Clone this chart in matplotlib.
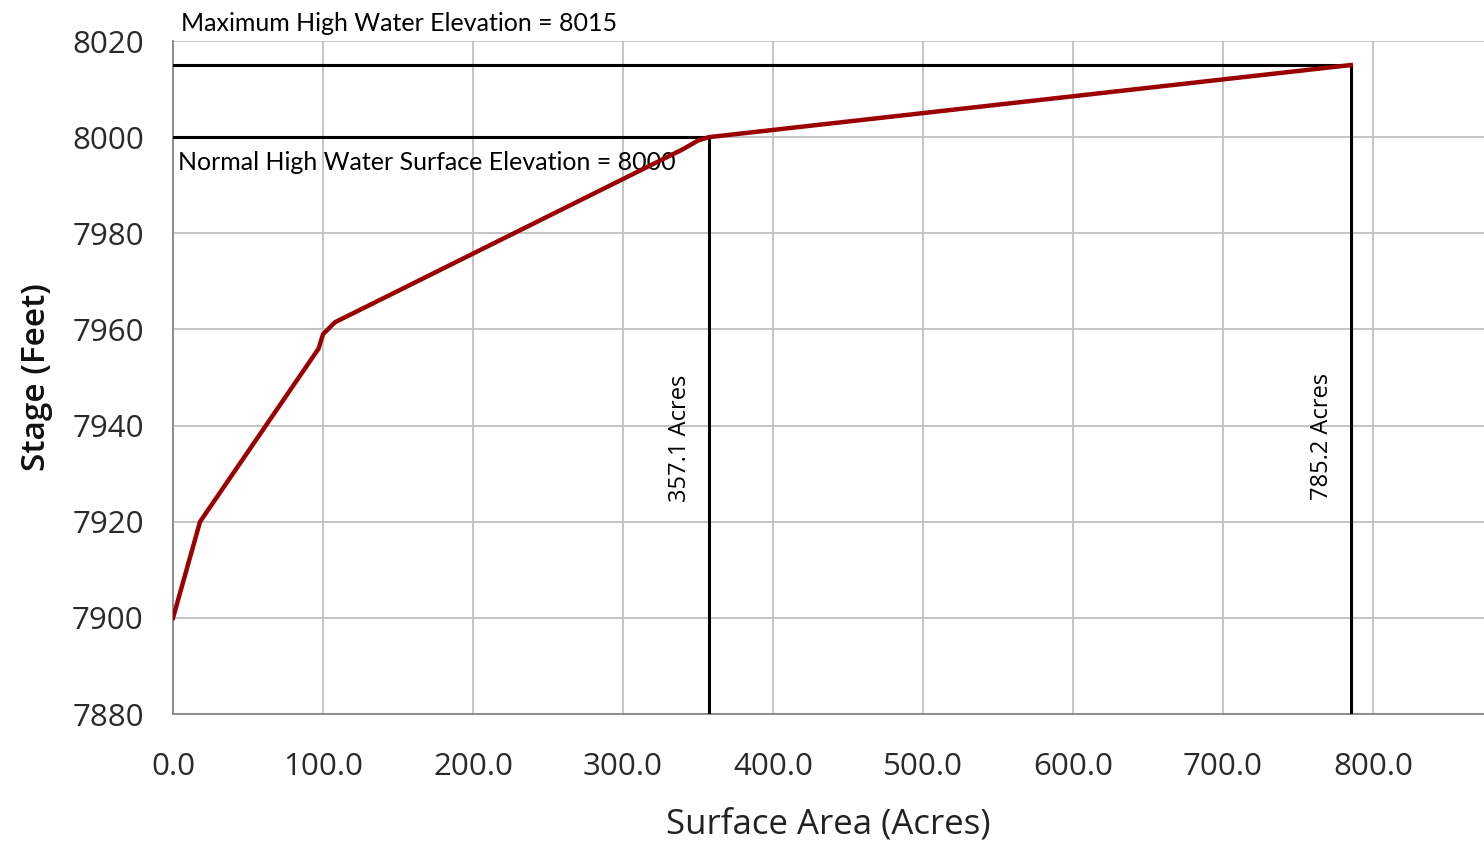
import numpy as np
import matplotlib.pyplot as plt

# stage-area curve
area = [0.0, 18.0, 97.0, 100.0, 108.0, 340.0, 350.0, 357.1, 785.2]
stage = [7900, 7920, 7956, 7959, 7961.5, 7997.5, 7999.3, 8000, 8015]

# reference elevations
normal_area = 357.1
normal_stage = 8000
max_area = 785.2
max_stage = 8015

x_ticks = [0, 100, 200, 300, 400, 500, 600, 700, 800]
y_ticks = [7880, 7900, 7920, 7940, 7960, 7980, 8000, 8020]

plt.rcParams['font.family'] = ['Open Sans', 'DejaVu Sans']

fig = plt.figure(figsize=(14.84, 8.44), dpi=100)
ax = fig.add_axes([0.1166, 0.154, 0.8834, 0.7974])

# black guide lines for normal and max water levels
ax.plot([0, normal_area], [normal_stage, normal_stage], color='black', lw=2.2, zorder=3)
ax.plot([normal_area, normal_area], [7880, normal_stage], color='black', lw=2.2, zorder=3)
ax.plot([0, max_area], [max_stage, max_stage], color='black', lw=2.2, zorder=3)
ax.plot([max_area, max_area], [7880, max_stage], color='black', lw=2.2, zorder=3)

ax.plot(area, stage, color='#9b0000', lw=3.2, solid_joinstyle='round', zorder=4)

ax.set_xlim(0, 874)
ax.set_ylim(7880, 8020)
ax.set_xticks(x_ticks)
ax.set_xticklabels(['%.1f' % v for v in x_ticks])
ax.set_yticks(y_ticks)
ax.grid(True, color='#c4c4c4', lw=1.4)
ax.set_axisbelow(True)

for side in ['top', 'right']:
    ax.spines[side].set_visible(False)
for side in ['left', 'bottom']:
    ax.spines[side].set_color('#8c8c8c')
    ax.spines[side].set_linewidth(1.4)

ax.tick_params(length=0, labelsize=22.5, colors='#2a2a2a')
ax.tick_params(axis='y', pad=21)
ax.tick_params(axis='x', pad=27)

ax.set_xlabel('Surface Area (Acres)', fontsize=25, color='#222222', labelpad=19)
ax.set_ylabel('Stage (Feet)', fontsize=24, color='#111111', labelpad=14,
              fontweight='semibold')

ax.text(5, 8023.6, 'Maximum High Water Elevation = 8015', fontsize=18,
        family=['Lato', 'DejaVu Sans'], ha='left', va='center', clip_on=False)
ax.text(3, 7994.8, 'Normal High Water Surface Elevation = 8000', fontsize=18,
        family=['Lato', 'DejaVu Sans'], ha='left', va='center')
ax.text(normal_area - 19, 7937.3, '357.1 Acres', fontsize=17, rotation=90,
        ha='center', va='center')
ax.text(max_area - 19, 7937.7, '785.2 Acres', fontsize=17, rotation=90,
        ha='center', va='center')

fig.savefig('out.png', dpi=100)
